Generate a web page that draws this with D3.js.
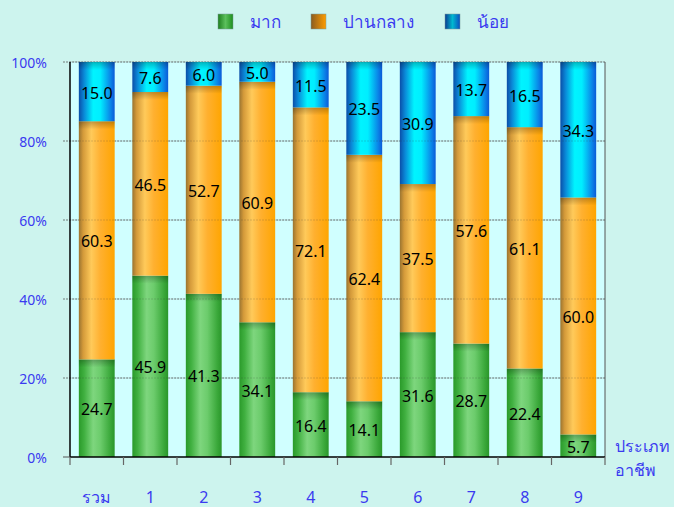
<!DOCTYPE html>
<html><head><meta charset="utf-8">
<script src="https://cdn.jsdelivr.net/npm/d3@7"></script>
<style>
html,body{margin:0;padding:0;background:#cdf4ee;}
svg{display:block;}
text{font-family:Tahoma,"Noto Sans","DejaVu Sans",sans-serif;}
</style></head>
<body>
<svg id="chart" width="674" height="507"></svg>
<script>
const categories = ["รวม","1","2","3","4","5","6","7","8","9"];
const seriesNames = ["มาก","ปานกลาง","น้อย"];
const much = [24.7,45.9,41.3,34.1,16.4,14.1,31.6,28.7,22.4,5.7];
const medium = [60.3,46.5,52.7,60.9,72.1,62.4,37.5,57.6,61.1,60.0];
const little = [15.0,7.6,6.0,5.0,11.5,23.5,30.9,13.7,16.5,34.3];
const yTicks = [0,20,40,60,80,100];
const axisTitle = ["ประเภท","อาชีพ"];

const svg = d3.select("#chart");
const m = {l:70, r:605, t:62, b:457};
const blue = "#3a3af0";

const defs = svg.append("defs");
function hgrad(id, stops){
  const g = defs.append("linearGradient").attr("id",id).attr("x1","0").attr("x2","1").attr("y1","0").attr("y2","0");
  stops.forEach(s=>g.append("stop").attr("offset",s[0]).attr("stop-color",s[1]));
}
hgrad("gGreen",[[0,"#2a9a2a"],[0.15,"#40b040"],[0.4,"#7ed67e"],[0.6,"#6ccc6c"],[0.88,"#3aa83a"],[1,"#2a962a"]]);
hgrad("gOrange",[[0,"#9a7430"],[0.12,"#d49a3a"],[0.35,"#ffca5a"],[0.6,"#ffb030"],[1,"#ffa500"]]);
hgrad("gBlue",[[0,"#0a4ea8"],[0.15,"#0a8ad8"],[0.4,"#00f4ff"],[0.6,"#00eeff"],[0.88,"#0a86e8"],[1,"#0a5ad8"]]);
hgrad("lGreen",[[0,"#1e7e1e"],[0.5,"#5cc05c"],[1,"#1e8e1e"]]);
hgrad("lOrange",[[0,"#8a5c20"],[1,"#ff9c00"]]);
hgrad("lBlue",[[0,"#0a3c90"],[0.5,"#00b8d0"],[1,"#0a4ec0"]]);
const vs = defs.append("linearGradient").attr("id","topShade").attr("x1","0").attr("x2","0").attr("y1","0").attr("y2","1");
vs.append("stop").attr("offset",0).attr("stop-color","#000").attr("stop-opacity",0.25);
vs.append("stop").attr("offset",1).attr("stop-color","#000").attr("stop-opacity",0);

const fills = ["url(#gGreen)","url(#gOrange)","url(#gBlue)"];
const legendFills = ["url(#lGreen)","url(#lOrange)","url(#lBlue)"];

const x = d3.scaleBand().domain(categories).range([m.l,m.r]).paddingInner(0.33).paddingOuter(0.165);
const xb = d3.scaleBand().domain(categories).range([m.l,m.r]).padding(0);
const y = d3.scaleLinear().domain([0,100]).range([m.b,m.t]);

svg.append("rect").attr("x",m.l).attr("y",m.t).attr("width",m.r-m.l).attr("height",m.b-m.t).attr("fill","#d0ffff");

// gridlines behind bars
yTicks.filter(t=>t>0).forEach(t=>{
  svg.append("line").attr("x1",m.l-7).attr("x2",m.r).attr("y1",y(t)).attr("y2",y(t))
    .attr("stroke","#555").attr("stroke-width",1).attr("stroke-dasharray","2,1").attr("opacity",0.75);
});

const data = categories.map((c,i)=>({cat:c, "มาก":much[i], "ปานกลาง":medium[i], "น้อย":little[i]}));
const stack = d3.stack().keys(seriesNames)(data);

const g = svg.append("g");
stack.forEach((layer,li)=>{
  layer.forEach(d=>{
    const x0 = x(d.data.cat), w = x.bandwidth();
    const y0 = y(d[1]), h = y(d[0]) - y(d[1]);
    g.append("rect").attr("x",x0).attr("y",y0).attr("width",w).attr("height",h).attr("fill",fills[li]);
    g.append("rect").attr("x",x0).attr("y",y0).attr("width",w).attr("height",Math.min(8,h)).attr("fill","url(#topShade)");
  });
});

// faint gridline overlay
yTicks.filter(t=>t>0).forEach(t=>{
  svg.append("line").attr("x1",m.l).attr("x2",m.r).attr("y1",y(t)).attr("y2",y(t))
    .attr("stroke","#333").attr("stroke-width",1).attr("stroke-dasharray","2,1").attr("opacity",0.18);
});
svg.append("line").attr("x1",m.r).attr("x2",m.r).attr("y1",m.t).attr("y2",m.b).attr("stroke","#555").attr("stroke-width",1);

stack.forEach((layer,li)=>{
  layer.forEach(d=>{
    const v = d[1]-d[0];
    svg.append("text").attr("x",x(d.data.cat)+x.bandwidth()/2).attr("y",(y(d[0])+y(d[1]))/2+1)
      .attr("text-anchor","middle").attr("dominant-baseline","central")
      .attr("font-size",16).attr("fill","#000").text(v.toFixed(1));
  });
});

svg.append("line").attr("x1",m.l).attr("x2",m.l).attr("y1",m.t).attr("y2",m.b).attr("stroke","#000").attr("stroke-width",1.5);
yTicks.forEach(t=>{
  svg.append("text").attr("x",47).attr("y",y(t)).attr("text-anchor","end").attr("dominant-baseline","central")
    .attr("font-size",14).attr("fill",blue).text(t+"%");
});
svg.append("line").attr("x1",m.l-7).attr("x2",m.l).attr("y1",m.b).attr("y2",m.b).attr("stroke","#555");

svg.append("line").attr("x1",m.l).attr("x2",m.r).attr("y1",m.b).attr("y2",m.b).attr("stroke","#000").attr("stroke-width",1.5);
categories.forEach((c,i)=>{
  svg.append("line").attr("x1",xb(c)).attr("x2",xb(c)).attr("y1",m.b).attr("y2",m.b+8).attr("stroke","#666").attr("stroke-width",1.2);
  svg.append("text").attr("x",xb(c)+xb.bandwidth()/2).attr("y",497).attr("text-anchor","middle").attr("dominant-baseline","central")
    .attr("font-size",16).attr("fill",blue).text(c);
});
svg.append("line").attr("x1",m.r).attr("x2",m.r).attr("y1",m.b).attr("y2",m.b+8).attr("stroke","#666").attr("stroke-width",1.2);
axisTitle.forEach((t,i)=>{
  svg.append("text").attr("x",615).attr("y",446+i*24).attr("dominant-baseline","central")
    .attr("font-size",16).attr("fill",blue).text(t);
});

const legX = [218,311,445];
seriesNames.forEach((s,i)=>{
  svg.append("rect").attr("x",legX[i]).attr("y",14).attr("width",15).attr("height",15).attr("fill",legendFills[i]).attr("stroke","#7a9a9a").attr("stroke-width",0.5);
  svg.append("text").attr("x",legX[i]+32).attr("y",21).attr("dominant-baseline","central")
    .attr("font-size",17).attr("fill",blue).text(s);
});
</script>
</body></html>
